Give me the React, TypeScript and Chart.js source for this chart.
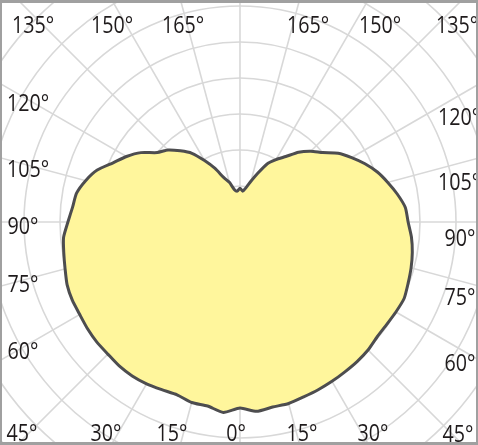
import { useEffect, useRef } from "react";
import { Chart, registerables } from "chart.js";

Chart.register(...registerables);

// intensity readings every 5°, right half: from 180° (up) down to 0° (down)
const RIGHT_SIDE = [
	94, 86, 97, 117, 144, 178, 200, 222, 253, 278, 300, 333, 358, 383, 406, 425,
	444, 461, 467, 478, 486, 492, 497, 503, 500, 497, 497, 503, 506, 508, 511,
	514, 517, 522, 522, 528, 517,
];
// left half: from 5° up to 175°
const LEFT_SIDE = [
	531, 519, 519, 511, 514, 519, 522, 522, 519, 519, 517, 514, 514, 511, 503,
	497, 492, 478, 467, 461, 444, 422, 389, 364, 336, 300, 283, 258, 233, 197,
	164, 131, 114, 92, 86,
];

const STEP_DEG = 5;
const RING_STEP = 100;
const RING_MAX = 1000;

// angle captions round the frame
const EDGE_LABELS = [
	"135°", "150°", "165°", "165°", "150°", "135°",
	"120°", "105°", "90°", "75°", "60°", "45°",
	"30°", "15°", "0°", "15°", "30°", "45°",
	"60°", "75°", "90°", "105°", "120°",
];
// where each caption sits (page px, text centre)
const LABEL_SPOTS: [number, number][] = [
	[33, 24], [112, 24], [183, 24], [308, 24], [380, 24], [457, 24],
	[28, 102], [28, 168], [23, 225], [23, 283], [23, 350], [22, 432],
	[106, 432], [172, 432], [236, 432], [302, 432], [373, 432], [458, 433],
	[460, 362], [460, 296], [460, 237], [459, 181], [459, 116],
];

const BORDER_LEFT = 2;
const BORDER_TOP = 3;
const CENTER_X = 240 - BORDER_LEFT;
const CENTER_Y = 222 - BORDER_TOP;
const GRID = "#d8d8d8";

const angleLabels = Array.from({ length: 360 / STEP_DEG }, (_, i) => {
	const a = i * STEP_DEG;
	return `${a <= 180 ? 180 - a : a - 180}°`;
});

const edgeLabelPlugin = {
	id: "edgeLabels",
	afterDraw(chart: Chart) {
		const ctx = chart.ctx;
		ctx.save();
		ctx.font = "24px 'Open Sans', sans-serif";
		ctx.fillStyle = "#1f1b1c";
		ctx.textAlign = "center";
		ctx.textBaseline = "alphabetic";
		EDGE_LABELS.forEach((text, i) => {
			const [x, y] = LABEL_SPOTS[i];
			ctx.save();
			// the captions are set in a narrow face
			ctx.translate(x - BORDER_LEFT, y - BORDER_TOP + 8.5);
			ctx.scale(0.82, 1);
			ctx.fillText(text, 0, 0);
			ctx.restore();
		});
		ctx.restore();
	},
};

export default function App() {
	const canvasRef = useRef<HTMLCanvasElement | null>(null);
	const chartRef = useRef<Chart | null>(null);

	useEffect(() => {
		if (!canvasRef.current) return;
		if (chartRef.current) chartRef.current.destroy();

		chartRef.current = new Chart(canvasRef.current, {
			type: "radar",
			data: {
				labels: angleLabels,
				datasets: [
					{
						data: [...RIGHT_SIDE, ...LEFT_SIDE],
						borderColor: "#4d4d4f",
						borderWidth: 3,
						backgroundColor: "#fff69c",
						fill: true,
						pointRadius: 0,
						tension: 0.2,
					},
				],
			},
			options: {
				animation: false,
				responsive: true,
				maintainAspectRatio: false,
				layout: { padding: 0 },
				plugins: {
					legend: { display: false },
					tooltip: { enabled: false },
				},
				scales: {
					r: {
						min: 0,
						max: RING_MAX,
						startAngle: 0,
						ticks: { display: false, stepSize: RING_STEP },
						pointLabels: { display: false },
						grid: { circular: true, color: GRID, lineWidth: 1.6 },
						angleLines: {
							color: (c: any) => (c.index % 3 === 0 ? GRID : "transparent"),
							lineWidth: 1.6,
						},
						// rings every 36px round the lamp centre, running past the frame
						afterFit: (scale: any) => {
							scale.xCenter = CENTER_X;
							scale.yCenter = CENTER_Y;
							scale.drawingArea = 360;
						},
					},
				},
			},
			plugins: [edgeLabelPlugin],
		});

		return () => {
			if (chartRef.current) {
				chartRef.current.destroy();
				chartRef.current = null;
			}
		};
	}, []);

	return (
		<div
			style={{
				position: "fixed",
				top: 0,
				left: 0,
				width: 478,
				height: 445,
				boxSizing: "border-box",
				borderStyle: "solid",
				borderColor: "#a0a0a0",
				borderWidth: `${BORDER_TOP}px 2px 3px ${BORDER_LEFT}px`,
				background: "#fff",
			}}
		>
			<div style={{ position: "relative", width: "100%", height: "100%" }}>
				<canvas ref={canvasRef} />
			</div>
		</div>
	);
}
